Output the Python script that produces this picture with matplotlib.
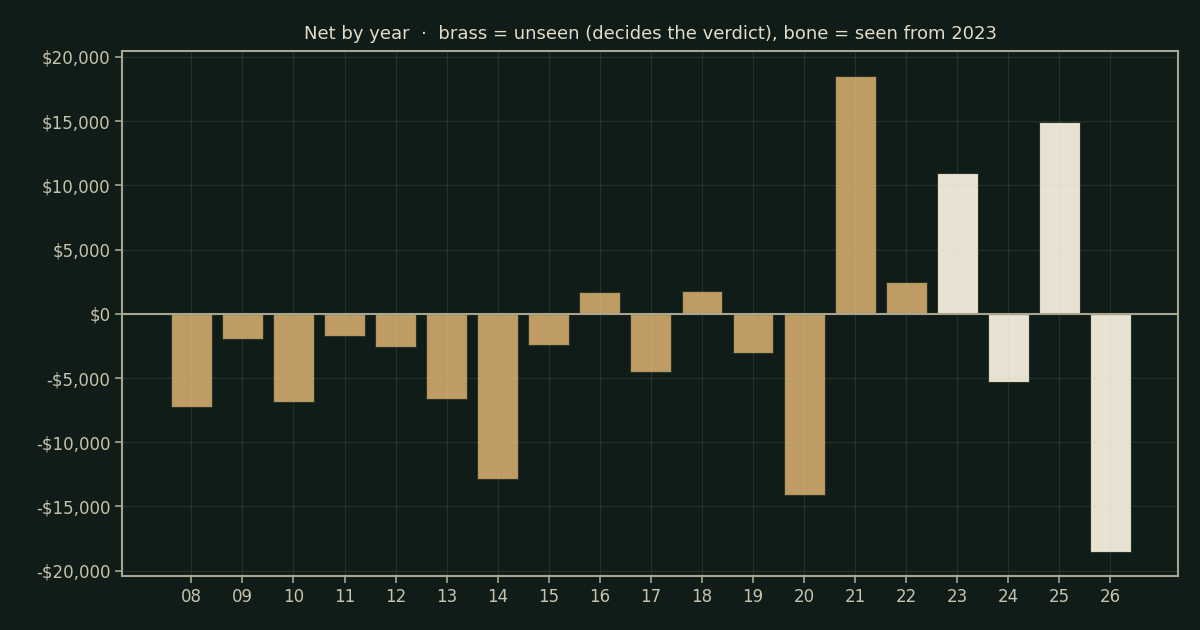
import matplotlib
matplotlib.use('Agg')
import matplotlib.pyplot as plt
from matplotlib.ticker import FuncFormatter

years = ['08', '09', '10', '11', '12', '13', '14', '15', '16', '17',
         '18', '19', '20', '21', '22', '23', '24', '25', '26']
net = [-7260, -1950, -6850, -1700, -2570, -6670, -12840, -2390, 1660, -4510,
       1810, -3090, -14090, 18520, 2440, 11000, -5290, 14970, -18550]
seen_from = 23

bg = '#0f1c17'
brass = '#bf9c63'
bone = '#e8e2d2'
axis_col = '#a9a590'
text_col = '#c8c3ae'

fig, ax = plt.subplots(figsize=(12, 6.3), dpi=100)
fig.patch.set_facecolor(bg)
ax.set_facecolor(bg)
fig.subplots_adjust(left=0.102, right=0.982, top=0.919, bottom=0.086)

x = list(range(len(years)))
colors = [bone if int(y) >= seen_from else brass for y in years]
ax.bar(x, net, width=0.8, color=colors, edgecolor='#2a3328', linewidth=0.8, zorder=2)
ax.axhline(0, color=axis_col, linewidth=1.5, zorder=3)

ax.set_xticks(x)
ax.set_xticklabels(years)
ax.set_xlim(-1.35, 19.33)
ax.set_ylim(-20400, 20460)
ax.set_yticks(range(-20000, 20001, 5000))
ax.yaxis.set_major_formatter(FuncFormatter(lambda v, p: ('-$%s' % format(int(-v), ',')) if v < 0 else '$%s' % format(int(v), ',')))

# grid sits over the bars, very faint
ax.set_axisbelow(False)
ax.grid(True, color='#c8c3ae', alpha=0.12, linewidth=0.8)
for s in ax.spines.values():
    s.set_color(axis_col)
    s.set_linewidth(1.5)
ax.tick_params(colors=axis_col, labelcolor=text_col, labelsize=12, length=5, width=1.2)

ax.set_title('Net by year  \u00b7  brass = unseen (decides the verdict), bone = seen from 2023',
             color='#e3ddc9', fontsize=13, pad=9)

fig.savefig('out.png', facecolor=bg)
